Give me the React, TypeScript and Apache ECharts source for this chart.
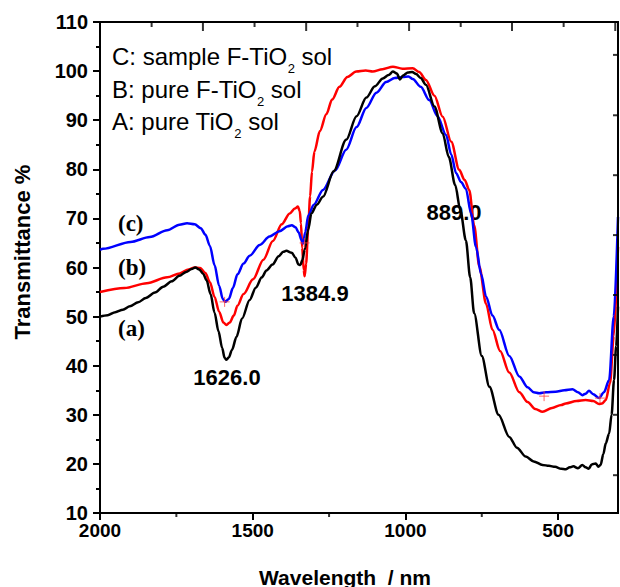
import React, { useEffect, useRef } from 'react';
import * as echarts from 'echarts';

// [wavelength nm, transmittance %]
const curveC: [number, number][] = [
  [2000, 63.6], [1990, 63.8], [1900, 65.2], [1837, 66.2], [1780, 67.6], [1740, 68.7],
  [1715, 69.0], [1690, 68.8], [1670, 68.0], [1655, 66.7], [1640, 64.4], [1625, 60.5],
  [1610, 56.3], [1598, 53.6], [1590, 53.0], [1578, 53.6], [1565, 55.8], [1550, 58.6],
  [1530, 60.8], [1510, 62.4], [1477, 64.6], [1445, 66.3], [1412, 67.4], [1385, 68.4],
  [1372, 68.6], [1360, 68.2], [1350, 67.2], [1340, 65.6], [1335, 64.9], [1328, 67.2],
  [1318, 70.6], [1300, 72.8], [1270, 75.8], [1230, 79.8], [1194, 84.0], [1160, 88.6],
  [1128, 92.5], [1095, 95.6], [1063, 97.8], [1035, 98.6], [1009, 98.8], [990, 98.9],
  [976, 98.4], [950, 96.8], [922, 94.1], [895, 90.8], [867, 87.0], [850, 83.0],
  [834, 79.2], [818, 77.4], [802, 76.0], [785, 71.0], [769, 64.2], [752, 58.6],
  [736, 54.1], [715, 50.2], [693, 47.3], [660, 42.0], [627, 37.8], [600, 35.6],
  [580, 34.6], [562, 34.4], [540, 34.6], [508, 34.7], [480, 35.0], [453, 35.2],
  [435, 34.6], [421, 34.0], [410, 34.3], [399, 34.9], [385, 34.2], [366, 33.4],
  [350, 34.6], [333, 37.1], [318, 50.0], [304, 70.3]
];

const curveB: [number, number][] = [
  [2000, 55.0], [1920, 55.8], [1847, 56.8], [1780, 58.0], [1739, 58.8], [1710, 59.6],
  [1690, 60.0], [1672, 59.9], [1655, 58.9], [1640, 57.0], [1625, 54.0], [1610, 51.0],
  [1596, 48.8], [1586, 48.3], [1575, 48.8], [1562, 50.2], [1550, 52.2], [1530, 54.6],
  [1499, 57.6], [1465, 61.6], [1434, 65.4], [1405, 68.8], [1379, 71.0], [1362, 72.0],
  [1352, 72.4], [1346, 71.5], [1342, 69.0], [1338, 64.0], [1333, 59.5], [1330, 58.2],
  [1325, 60.8], [1319, 67.4], [1312, 74.5], [1306, 79.5], [1298, 83.6], [1280, 87.8],
  [1259, 91.2], [1240, 94.2], [1216, 96.8], [1190, 98.8], [1161, 99.9], [1130, 100.1],
  [1107, 99.9], [1075, 100.4], [1041, 100.9], [1010, 100.5], [976, 100.6], [955, 99.8],
  [933, 98.2], [905, 95.0], [878, 90.7], [850, 85.6], [824, 79.9], [806, 77.8],
  [791, 75.8], [775, 68.6], [758, 60.2], [736, 52.6], [715, 47.3], [690, 43.0],
  [660, 38.6], [627, 34.6], [600, 32.6], [575, 31.2], [551, 30.6], [520, 31.4],
  [490, 32.0], [475, 32.3], [440, 32.8], [410, 33.0], [385, 32.8], [366, 32.2],
  [356, 32.3], [344, 33.0], [330, 36.5], [318, 46.0], [304, 64.2]
];

const curveA: [number, number][] = [
  [2000, 50.0], [1975, 50.3], [1950, 50.9], [1925, 51.4], [1902, 52.1], [1875, 52.9],
  [1850, 53.8], [1820, 54.9], [1793, 56.1], [1765, 57.2], [1740, 58.3], [1718, 59.1],
  [1700, 59.7], [1688, 60.0], [1675, 59.6], [1662, 58.7], [1651, 57.4], [1638, 54.6],
  [1625, 50.8], [1612, 47.0], [1600, 43.6], [1592, 41.6], [1586, 41.2], [1578, 41.7],
  [1568, 43.2], [1553, 45.9], [1535, 49.6], [1510, 53.4], [1490, 55.9], [1470, 58.0],
  [1455, 59.4], [1435, 60.6], [1415, 62.3], [1400, 63.2], [1390, 63.4], [1372, 63.0],
  [1360, 62.0], [1350, 60.6], [1344, 60.5], [1337, 61.6], [1330, 63.6], [1318, 67.8],
  [1308, 71.0], [1290, 72.8], [1270, 74.4], [1235, 79.6], [1194, 86.0], [1160, 90.8],
  [1128, 94.6], [1100, 96.9], [1074, 98.5], [1055, 99.2], [1041, 99.9], [1028, 99.5],
  [1018, 98.3], [1008, 99.1], [992, 99.7], [978, 99.8], [965, 99.4], [950, 98.6],
  [933, 97.2], [905, 92.8], [878, 87.3], [858, 82.5], [837, 76.8], [820, 71.6],
  [802, 65.5], [788, 58.0], [775, 50.7], [750, 42.0], [725, 35.7], [695, 30.0],
  [660, 25.5], [635, 23.3], [606, 21.5], [580, 20.5], [551, 19.8], [530, 19.6],
  [510, 19.4], [490, 19.0], [475, 18.9], [462, 19.3], [450, 19.5], [435, 19.1],
  [421, 19.8], [410, 19.3], [400, 19.0], [390, 19.9], [377, 20.1], [368, 19.4],
  [361, 19.8], [352, 22.0], [344, 24.2], [333, 26.2], [325, 30.0], [317, 37.1],
  [310, 44.0], [304, 52.0]
];

const peakMarks: [number, number][] = [
  [1592, 53.0], [1330, 65.0], [546, 33.8], [363, 33.4]
];

// legend lines: [before subscript, subscript, after subscript]
const legendLines: [string, string, string][] = [
  ['C: sample F-TiO', '2', ' sol'],
  ['B: pure F-TiO', '2', ' sol'],
  ['A: pure TiO', '2', ' sol']
];

const X_MIN = 304;
const X_MAX = 2000;
const Y_MIN = 10;
const Y_MAX = 110;
const xMajorTicks = [2000, 1500, 1000, 500];
const xMinorTicks = [1750, 1250, 750];
// top frame ticks (nm positions), long and short
const topLongTicks = [1663, 1325, 988, 651, 313];
const topShortTicks = [1831, 1494, 1157, 819, 482];
// right frame ticks (transmittance positions)
const rightFrameTicks = [17.7, 30.0, 42.2, 54.4, 66.6, 78.8, 91.0, 103.3];

const FONT = 'Liberation Sans, Arial, sans-serif';
const SERIF = 'Liberation Serif, Times New Roman, serif';

function measure(text: string, font: string): number {
  const c = document.createElement('canvas').getContext('2d');
  if (!c) return text.length * 12;
  c.font = font;
  return c.measureText(text).width;
}

export default function App() {
  const ref = useRef<HTMLDivElement>(null);

  useEffect(() => {
    if (!ref.current) return;
    const chart = echarts.init(ref.current, null, { renderer: 'svg' });
    const ls = () => ({ color: '#000', width: 2 });

    const lineCommon = {
      type: 'line', xAxisIndex: 0, yAxisIndex: 0, showSymbol: false,
      smooth: 0.3, smoothMonotone: 'x'
    };

    const tickSeries = (data: [number, number][], size: number[], offset: number[]) => ({
      type: 'scatter', data, xAxisIndex: 0, yAxisIndex: 0, symbol: 'rect',
      symbolSize: size, symbolOffset: offset, clip: false, silent: true,
      itemStyle: { color: '#000' }, z: 8
    });

    const mainFont = `24px ${FONT}`;
    const subFont = `13px ${FONT}`;
    const legendY = [56, 89, 121];
    const legendGraphics: any[] = [];
    legendLines.forEach((parts, i) => {
      const x0 = 112;
      const w1 = measure(parts[0], mainFont);
      const w2 = measure(parts[1], subFont);
      const y = legendY[i];
      legendGraphics.push(
        { type: 'text', x: x0, y, style: { text: parts[0], font: mainFont, lineHeight: 24, fill: '#000', verticalAlign: 'middle', align: 'left' } },
        { type: 'text', x: x0 + w1 + 0.5, y: y + 12, style: { text: parts[1], font: subFont, lineHeight: 10, fill: '#000', verticalAlign: 'middle', align: 'left' } },
        { type: 'text', x: x0 + w1 + w2 + 0.5, y, style: { text: parts[2], font: mainFont, lineHeight: 24, fill: '#000', verticalAlign: 'middle', align: 'left' } }
      );
    });

    const option: any = {
      animation: false,
      backgroundColor: '#fff',
      grid: {
        left: 100, right: 2, top: 22, bottom: 74, containLabel: false, outerBoundsMode: 'none',
        show: true, borderColor: '#000', borderWidth: 2, backgroundColor: 'transparent'
      },
      xAxis: {
        type: 'value', inverse: true, min: X_MIN, max: X_MAX, position: 'bottom',
        axisLine: { show: true, onZero: false, lineStyle: ls() },
        axisTick: { show: true, inside: false, length: 7, lineStyle: ls(), customValues: xMajorTicks },
        axisLabel: {
          customValues: xMajorTicks, color: '#000', fontSize: 19, fontWeight: 'bold', fontFamily: FONT, margin: 8,
          formatter: (v: number) => String(v)
        },
        splitLine: { show: false }
      },
      yAxis: {
        type: 'value', min: Y_MIN, max: Y_MAX, interval: 10, position: 'left',
        axisLine: { show: true, onZero: false, lineStyle: ls() },
        axisTick: { show: true, inside: false, length: 7, lineStyle: ls() },
        minorTick: { show: true, splitNumber: 2, length: 4, lineStyle: ls() },
        axisLabel: { color: '#000', fontSize: 20, fontWeight: 'bold', fontFamily: FONT, margin: 12 },
        splitLine: { show: false }
      },
      series: [
        { ...lineCommon, name: 'B', data: curveB, lineStyle: { color: '#ff0000', width: 2.5 }, itemStyle: { color: '#ff0000' }, z: 2 },
        { ...lineCommon, name: 'C', data: curveC, lineStyle: { color: '#0000ff', width: 2.5 }, itemStyle: { color: '#0000ff' }, z: 3 },
        { ...lineCommon, name: 'A', data: curveA, lineStyle: { color: '#000000', width: 2.5 }, itemStyle: { color: '#000' }, z: 4 },
        {
          type: 'scatter', data: peakMarks, xAxisIndex: 0, yAxisIndex: 0,
          symbol: 'path://M0,5L10,5M5,0L5,10', symbolSize: 10,
          itemStyle: { color: 'none', borderColor: '#ff4040', borderWidth: 1 }, z: 5,
          markLine: {
            silent: true, symbol: ['none', 'none'], label: { show: false },
            lineStyle: { color: '#000', width: 2, type: 'solid' },
            data: [{ yAxis: Y_MAX }, { xAxis: X_MIN }]
          }
        },
        tickSeries(topLongTicks.map((v) => [v, Y_MAX] as [number, number]), [2, 9], [0, 4.5]),
        tickSeries(topShortTicks.map((v) => [v, Y_MAX] as [number, number]), [2, 5], [0, 2.5]),
        tickSeries(rightFrameTicks.map((v) => [X_MIN, v] as [number, number]), [5, 2], [-2.5, 0]),
        tickSeries(xMinorTicks.map((v) => [v, Y_MIN] as [number, number]), [2, 4], [0, 2])
      ],
      graphic: [
        ...legendGraphics,
        { type: 'text', x: 118, y: 223, style: { text: '(c)', font: `bold 23px ${SERIF}`, fill: '#000', verticalAlign: 'middle', align: 'left' } },
        { type: 'text', x: 118, y: 267, style: { text: '(b)', font: `bold 23px ${SERIF}`, fill: '#000', verticalAlign: 'middle', align: 'left' } },
        { type: 'text', x: 118, y: 328, style: { text: '(a)', font: `bold 23px ${SERIF}`, fill: '#000', verticalAlign: 'middle', align: 'left' } },
        { type: 'text', x: 227, y: 377, style: { text: '1626.0', font: `bold 22px ${FONT}`, fill: '#000', verticalAlign: 'middle', align: 'center' } },
        { type: 'text', x: 315, y: 293, style: { text: '1384.9', font: `bold 22px ${FONT}`, fill: '#000', verticalAlign: 'middle', align: 'center' } },
        { type: 'text', x: 454, y: 212, style: { text: '889.0', font: `bold 22px ${FONT}`, fill: '#000', verticalAlign: 'middle', align: 'center' } },
        { type: 'text', x: 345, y: 577, style: { text: 'Wavelength  / nm', font: `bold 21px ${FONT}`, fill: '#000', verticalAlign: 'middle', align: 'center' } },
        { type: 'text', x: 22, y: 252, rotation: Math.PI / 2, style: { text: 'Transmittance %', font: `bold 22px ${FONT}`, fill: '#000', verticalAlign: 'middle', align: 'center' } }
      ]
    };

    chart.setOption(option);
    return () => chart.dispose();
  }, []);

  return (
    <div
      ref={ref}
      style={{ position: 'fixed', left: 0, top: 0, width: 620, height: 587, background: '#fff' }}
    />
  );
}
